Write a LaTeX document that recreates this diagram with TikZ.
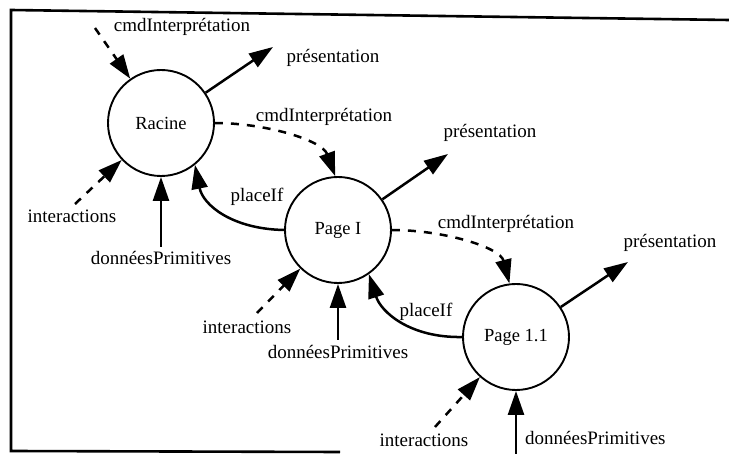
\documentclass[tikz,border=0pt]{standalone}
\usepackage{fontspec}
\setmainfont{Liberation Serif}
\usetikzlibrary{arrows.meta}
\begin{document}
\begin{tikzpicture}[x=1pt,y=-1pt,
  proc/.style={draw,circle,line width=1.9pt,minimum size=106pt,inner sep=0pt,font=\fontsize{18.5}{21}\selectfont},
  lbl/.style={font=\fontsize{19}{22}\selectfont,inner sep=0pt},
  flow/.style={line width=2.5pt,-{Triangle[length=24pt,width=16pt]}},
  ctrl/.style={flow,dash pattern=on 8pt off 8pt},
  frame/.style={line width=2.6pt}
]
\useasboundingbox (0,0) rectangle (729,454);
% frame
\coordinate (f1) at (729,20);
\coordinate (f2) at (11,10);
\coordinate (f3) at (11,451);
\coordinate (f4) at (340,452);
\draw[frame] (f1) -- (f2) -- (f3) -- (f4);

% processes
\node[proc] (R) at (161,123) {Racine};
\node[proc] (P1) at (338,230) {Page I};
\node[proc] (P2) at (516,337) {Page 1.1};

% Racine
\coordinate (rc) at (95,28);
\coordinate (rp) at (273,47);
\coordinate (ri) at (75,204);
\coordinate (rd) at (161,247);
\draw[ctrl] (rc) -- (R);
\draw[flow] (R) -- (rp);
\draw[ctrl] (ri) -- (R);
\draw[flow] (rd) -- (R);
\node[lbl] (lrc) at (182,27) {cmdInterprétation};
\node[lbl] (lrp) at (333,58) {présentation};
\node[lbl] (lri) at (72,216) {interactions};
\node[lbl] (lrd) at (161,258) {donnéesPrimitives};

% Page I
\coordinate (p1p) at (448,154);
\coordinate (p1i) at (257,313);
\coordinate (p1d) at (338,340);
\draw[ctrl] (R.east) .. controls (265,123) and (322,140) .. (P1.93);
\draw[flow] (P1) -- (p1p);
\draw[flow] (P1.west) .. controls (232,229) and (203,205) .. (R.-51);
\draw[ctrl] (p1i) -- (P1);
\draw[flow] (p1d) -- (P1);
\node[lbl] (l1c) at (324,117) {cmdInterprétation};
\node[lbl] (l1p) at (490,133) {présentation};
\node[lbl] (l1f) at (257,197) {placeIf};
\node[lbl] (l1i) at (247,327) {interactions};
\node[lbl] (l1d) at (338,352) {donnéesPrimitives};

% Page 1.1
\coordinate (p2p) at (628,262);
\coordinate (p2i) at (435,427);
\coordinate (p2d) at (516,454);
\draw[ctrl] (P1.east) .. controls (443,230) and (500,247) .. (P2.97);
\draw[flow] (P2) -- (p2p);
\draw[flow] (P2.west) .. controls (410,338) and (381,312) .. (P1.-55);
\draw[ctrl] (p2i) -- (P2);
\draw[flow] (p2d) -- (P2);
\node[lbl] (l2c) at (506,224) {cmdInterprétation};
\node[lbl] (l2p) at (670,243) {présentation};
\node[lbl] (l2f) at (426,312) {placeIf};
\node[lbl] (l2i) at (424,440) {interactions};
\node[lbl,anchor=west] (l2d) at (525,438) {donnéesPrimitives};
\end{tikzpicture}
\end{document}
